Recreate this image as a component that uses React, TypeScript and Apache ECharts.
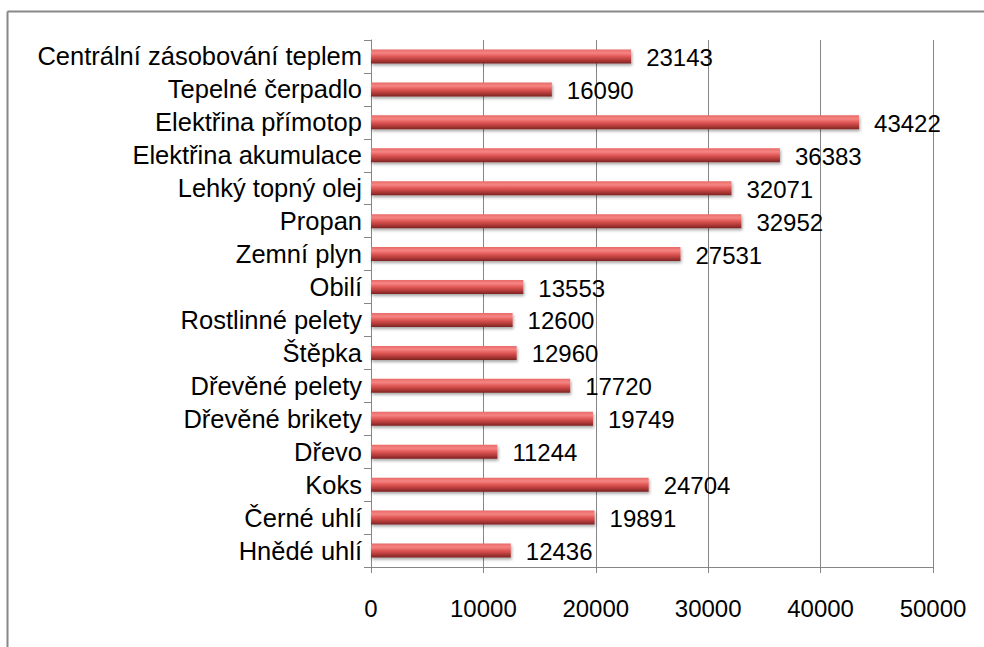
import React, { useEffect, useRef } from "react";
import * as echarts from "echarts";

const categories = [
  "Centrální zásobování teplem",
  "Tepelné čerpadlo",
  "Elektřina přímotop",
  "Elektřina akumulace",
  "Lehký topný olej",
  "Propan",
  "Zemní plyn",
  "Obilí",
  "Rostlinné pelety",
  "Štěpka",
  "Dřevěné pelety",
  "Dřevěné brikety",
  "Dřevo",
  "Koks",
  "Černé uhlí",
  "Hnědé uhlí",
];
const values = [
  23143, 16090, 43422, 36383, 32071, 32952, 27531, 13553, 12600, 12960, 17720,
  19749, 11244, 24704, 19891, 12436,
];
const xTicks = { min: 0, max: 50000, interval: 10000 };

export default function App() {
  const ref = useRef<HTMLDivElement>(null);
  useEffect(() => {
    if (!ref.current) return;
    const chart = echarts.init(ref.current, null, { renderer: "svg" });
    const font = "'Liberation Sans', Arial, sans-serif";
    chart.setOption({
      animation: false,
      backgroundColor: "#ffffff",
      grid: { left: 371, right: 51, top: 40, bottom: 80, containLabel: false },
      xAxis: {
        type: "value",
        min: xTicks.min,
        max: xTicks.max,
        interval: xTicks.interval,
        axisLine: { show: true, lineStyle: { color: "#868686", width: 1 } },
        axisTick: { show: true, length: 6, lineStyle: { color: "#868686" } },
        splitLine: { show: true, lineStyle: { color: "#868686", width: 1 } },
        axisLabel: {
          color: "#000",
          fontSize: 24,
          fontFamily: font,
          margin: 29,
          formatter: (v: number) => String(v),
        },
      },
      yAxis: {
        type: "category",
        data: categories,
        inverse: true,
        axisLine: { show: true, lineStyle: { color: "#868686", width: 1 } },
        axisTick: { show: true, length: 7, lineStyle: { color: "#868686" } },
        axisLabel: {
          interval: 0,
          color: "#000",
          fontSize: 25.5,
          lineHeight: 26,
          fontFamily: font,
          margin: 9,
        },
      },
      series: [
        {
          type: "bar",
          data: values,
          barWidth: 14,
          itemStyle: {
            color: new echarts.graphic.LinearGradient(0, 0, 0, 1, [
              { offset: 0, color: "#e86a68" },
              { offset: 0.25, color: "#f58482" },
              { offset: 0.5, color: "#e05856" },
              { offset: 0.75, color: "#b53c3a" },
              { offset: 1, color: "#7c2322" },
            ]),
            shadowColor: "rgba(0,0,0,0.35)",
            shadowOffsetY: 2,
            shadowOffsetX: 1,
            shadowBlur: 3,
          },
          label: {
            show: true,
            position: "right",
            distance: 15,
            offset: [0, 1],
            color: "#000",
            fontSize: 24,
            fontFamily: font,
          },
        },
      ],
      graphic: [
        {
          type: "line",
          shape: { x1: 7.5, y1: 11.5, x2: 984, y2: 11.5 },
          style: { stroke: "#888888", lineWidth: 2 },
        },
        {
          type: "line",
          shape: { x1: 7.5, y1: 11.5, x2: 7.5, y2: 647 },
          style: { stroke: "#888888", lineWidth: 2 },
        },
      ],
    });
    return () => chart.dispose();
  }, []);
  return (
    <div
      ref={ref}
      style={{ position: "fixed", left: 0, top: 0, width: 984, height: 647 }}
    />
  );
}
